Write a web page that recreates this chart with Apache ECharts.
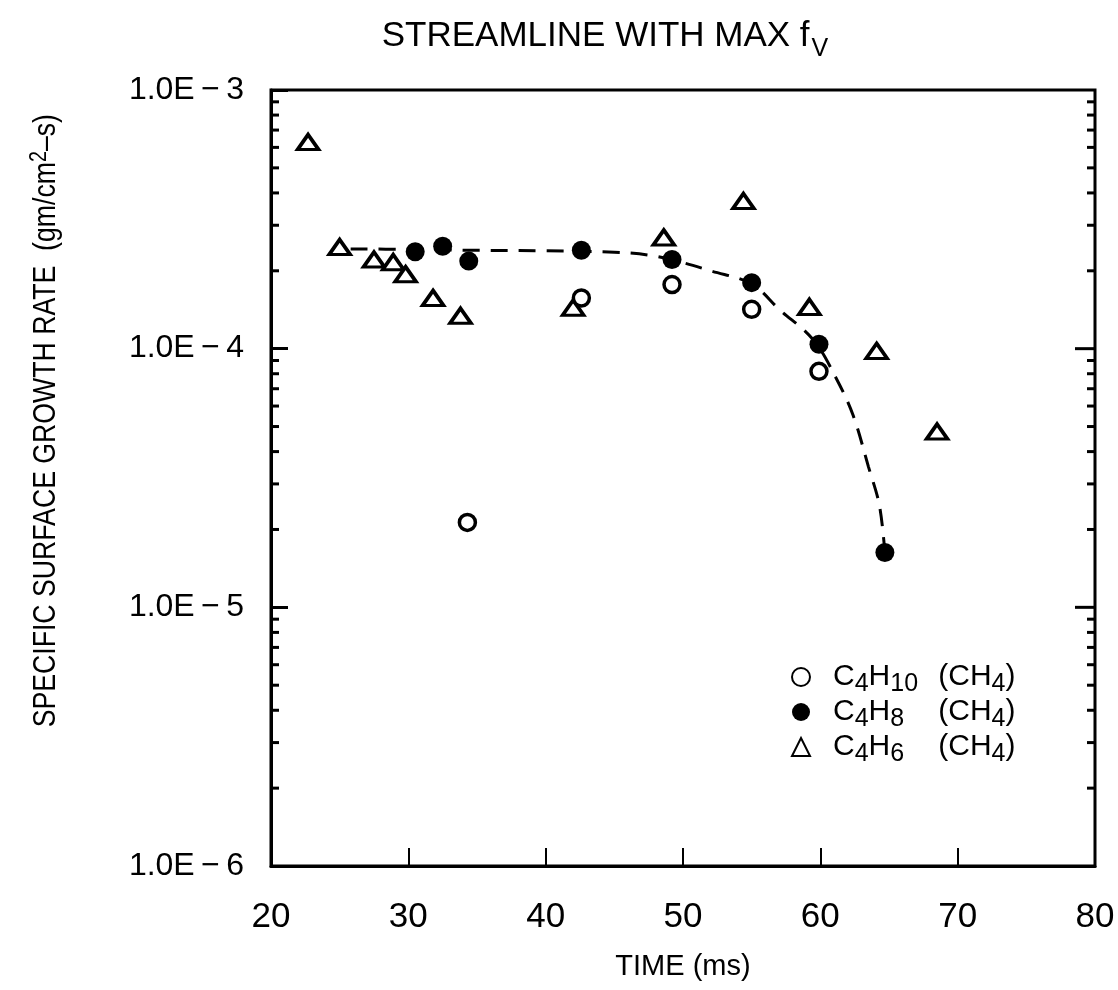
<!DOCTYPE html>
<html><head><meta charset="utf-8">
<script src="https://cdn.jsdelivr.net/npm/echarts@6/dist/echarts.min.js"></script>
<style>html,body{margin:0;padding:0;background:#fff}#c{width:1118px;height:990px}</style>
</head><body><div id="c"></div>
<script>
// ---- data ----
const c4h10Time = [34.3, 42.6, 49.2, 55.0, 59.9];
const c4h10Rate = [2.13e-5, 1.57e-4, 1.77e-4, 1.42e-4, 8.17e-5];

const c4h8Time = [30.5, 32.5, 34.4, 42.6, 49.2, 55.0, 59.9, 64.7];
const c4h8Rate = [2.37e-4, 2.49e-4, 2.18e-4, 2.40e-4, 2.21e-4, 1.80e-4, 1.04e-4, 1.63e-5];

const c4h6Time = [22.7, 25.0, 27.5, 28.9, 29.8, 31.8, 33.8, 42.0, 48.6, 54.4, 59.2, 64.1, 68.5];
const c4h6Rate = [6.29e-4, 2.47e-4, 2.21e-4, 2.16e-4, 1.94e-4, 1.57e-4, 1.34e-4, 1.44e-4, 2.69e-4, 3.72e-4, 1.45e-4, 9.8e-5, 4.78e-5];

// dashed curve drawn through the C4H8 points
const fitTime = [25.8, 30, 35, 40, 45, 47.5, 50, 52, 55, 57, 59.5, 61.2, 62.4, 63.5, 64.3, 64.7];
const fitRate = [2.43e-4, 2.42e-4, 2.40e-4, 2.39e-4, 2.36e-4, 2.30e-4, 2.15e-4, 2.0e-4, 1.78e-4, 1.42e-4, 1.08e-4, 7.6e-5, 5.5e-5, 3.5e-5, 2.48e-5, 1.63e-5];

const seriesNames = ['C4H10 (CH4)', 'C4H8 (CH4)', 'C4H6 (CH4)'];
const xTicks = [20, 30, 40, 50, 60, 70, 80];
const yTickLabels = ['1.0E\u2009\u2212\u20096', '1.0E\u2009\u2212\u20095', '1.0E\u2009\u2212\u20094', '1.0E\u2009\u2212\u20093'];
const yMajorInner = [1e-5, 1e-4];
const yMinorTicks = [2e-6,3e-6,4e-6,5e-6,6e-6,7e-6,8e-6,9e-6,
                     2e-5,3e-5,4e-5,5e-5,6e-5,7e-5,8e-5,9e-5,
                     2e-4,3e-4,4e-4,5e-4,6e-4,7e-4,8e-4,9e-4];

// ---- build ----
const zip = (a, b) => a.map((v, i) => [v, b[i]]);
const FONT = '"Liberation Sans", Arial, sans-serif';
const legendFmt = {
  'C4H10 (CH4)': '{g|}{n|C}{s|4}{n|H}{sw|10}{n|(CH}{s|4}{n|)}',
  'C4H8 (CH4)':  '{g|}{n|C}{s|4}{n|H}{sw|8}{n|(CH}{s|4}{n|)}',
  'C4H6 (CH4)':  '{g|}{n|C}{s|4}{n|H}{sw|6}{n|(CH}{s|4}{n|)}'
};

const chart = echarts.init(document.getElementById('c'), null, {renderer: 'canvas'});
const X0 = xTicks[0], X1 = xTicks[xTicks.length - 1];

chart.setOption({
  backgroundColor: '#fff',
  animation: false,
  title: {
    text: '{a|STREAMLINE WITH MAX f}{b|V}',
    left: 600, top: 14, textAlign: 'center',
    textStyle: {
      fontWeight: 'normal',
      rich: {
        a: {fontFamily: FONT, fontWeight: 'normal', fontSize: 35, color: '#000', verticalAlign: 'top', lineHeight: 40},
        b: {fontFamily: FONT, fontWeight: 'normal', fontSize: 25, color: '#000', verticalAlign: 'top', padding: [18, 0, 0, 2], lineHeight: 25}
      }
    }
  },
  grid: {left: 271, right: 23, top: 90, bottom: 124, show: true, borderColor: '#000', borderWidth: 3},
  legend: {
    orient: 'vertical', left: 786, top: 657, itemGap: 0,
    itemWidth: 18, itemHeight: 18,
    data: seriesNames,
    formatter: n => legendFmt[n],
    textStyle: {
      rich: {
        g: {width: 18, fontSize: 10, lineHeight: 10},
        n: {fontFamily: FONT, fontSize: 30, color: '#000', verticalAlign: 'top', lineHeight: 30},
        s: {fontFamily: FONT, fontSize: 25, color: '#000', verticalAlign: 'top', padding: [10, 0, 0, 0], lineHeight: 20},
        sw: {fontFamily: FONT, fontSize: 25, color: '#000', verticalAlign: 'top', padding: [10, 0, 0, 0], lineHeight: 20, width: 48}
      }
    }
  },
  xAxis: {
    type: 'value', min: X0, max: X1, interval: 10,
    axisLine: {show: true, lineStyle: {color: '#000', width: 3}},
    axisTick: {show: true, inside: true, length: 18, lineStyle: {color: '#000', width: 2}},
    splitLine: {show: false},
    axisLabel: {color: '#000', fontFamily: FONT, fontSize: 35, margin: 34},
    name: 'TIME (ms)', nameLocation: 'middle', nameGap: 86,
    nameTextStyle: {color: '#000', fontFamily: FONT, fontSize: 29}
  },
  yAxis: {
    type: 'log', logBase: 10, min: 1e-6, max: 1e-3,
    axisLine: {show: true, lineStyle: {color: '#000', width: 3}},
    axisTick: {show: true, inside: true, length: 17, lineStyle: {color: '#000', width: 3}},
    splitLine: {show: false},
    axisLabel: {color: '#000', fontFamily: FONT, fontSize: 32, margin: 27,
      formatter: v => yTickLabels[Math.round(Math.log10(v)) + 6]}
  },
  graphic: [{
    type: 'text', x: 28, y: 114,
    rotation: Math.PI / 2, scaleX: 0.86, originX: 0, originY: 0,
    style: {
      text: '{n|SPECIFIC SURFACE GROWTH RATE  (gm/cm}{p|2}{n|\u2013s)}',
      align: 'right', verticalAlign: 'top',
      rich: {
        n: {fontFamily: FONT, fontSize: 31, fill: '#000', verticalAlign: 'bottom', lineHeight: 34},
        p: {fontFamily: FONT, fontSize: 23, fill: '#000', verticalAlign: 'top', padding: [0, 0, 12, 0], lineHeight: 24}
      }
    }
  }],
  series: [
    {
      type: 'custom', silent: true, z: 5,
      data: yMinorTicks.map(v => [v, 8]).concat(yMajorInner.map(v => [v, 20])),
      renderItem: (params, api) => {
        const v = api.value(0), len = api.value(1);
        const pl = api.coord([X0, v]), pr = api.coord([X1, v]);
        const kids = [{type: 'line', shape: {x1: pr[0] - len, y1: pr[1], x2: pr[0], y2: pr[1]}, style: {stroke: '#000', lineWidth: 3}}];
        if (len < 10) kids.push({type: 'line', shape: {x1: pl[0], y1: pl[1], x2: pl[0] + len, y2: pl[1]}, style: {stroke: '#000', lineWidth: 3}});
        return {type: 'group', children: kids};
      },
      encode: {x: -1, y: 0}
    },
    {
      name: 'fit', type: 'line', data: zip(fitTime, fitRate), smooth: 0.35, showSymbol: false, symbol: 'none',
      lineStyle: {color: '#000', width: 3, type: [17, 11]}, z: 2
    },
    {
      name: seriesNames[0], type: 'scatter', data: zip(c4h10Time, c4h10Rate),
      symbol: 'circle', symbolSize: 16,
      itemStyle: {color: '#fff', borderColor: '#000', borderWidth: 3.5, opacity: 1}, z: 4
    },
    {
      name: seriesNames[1], type: 'scatter', data: zip(c4h8Time, c4h8Rate),
      symbol: 'circle', symbolSize: 19,
      itemStyle: {color: '#000', borderColor: '#000', borderWidth: 0, opacity: 1}, z: 4
    },
    {
      name: seriesNames[2], type: 'scatter', data: zip(c4h6Time, c4h6Rate),
      symbol: 'triangle', symbolSize: [21, 15],
      itemStyle: {color: '#fff', borderColor: '#000', borderWidth: 3.5, opacity: 1}, z: 3
    }
  ]
});
</script>
</body></html>
